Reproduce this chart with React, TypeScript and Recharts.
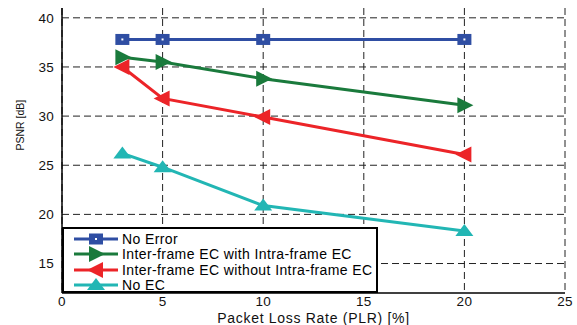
import React from "react";
import { CartesianGrid, Line, LineChart, XAxis, YAxis } from "recharts";

const plr = [3, 5, 10, 20];
const noError = [37.8, 37.8, 37.8, 37.8];
const interWithIntra = [36.0, 35.5, 33.8, 31.1];
const interWithoutIntra = [35.0, 31.8, 29.9, 26.1];
const noEc = [26.2, 24.8, 20.9, 18.3];
const xTicks = [0, 5, 10, 15, 20, 25];
const yTicks = [15, 20, 25, 30, 35, 40];

const FONT = "'Liberation Sans', Arial, sans-serif";

const SERIES = [
  { key: "noError", name: "No Error", color: "#2f4ea3", marker: "square" },
  { key: "interWithIntra", name: "Inter-frame EC with Intra-frame EC", color: "#1a7a3c", marker: "right" },
  { key: "interWithoutIntra", name: "Inter-frame EC without Intra-frame EC", color: "#ec2428", marker: "left" },
  { key: "noEc", name: "No EC", color: "#22b6b4", marker: "up" },
];

const data = plr.map((x, i) => ({
  x,
  noError: noError[i],
  interWithIntra: interWithIntra[i],
  interWithoutIntra: interWithoutIntra[i],
  noEc: noEc[i],
}));

function Marker({ cx, cy, type, color }: { cx: number; cy: number; type: string; color: string }) {
  if (type === "square") {
    return (
      <g>
        <rect x={cx - 7} y={cy - 5.5} width={14} height={11} fill={color} />
        <rect x={cx - 1} y={cy - 1} width={2} height={2} fill="#fff" />
      </g>
    );
  }
  if (type === "right") {
    return <polygon points={`${cx - 7},${cy - 8} ${cx + 9},${cy} ${cx - 7},${cy + 8}`} fill={color} />;
  }
  if (type === "left") {
    return <polygon points={`${cx + 7},${cy - 8} ${cx - 9},${cy} ${cx + 7},${cy + 8}`} fill={color} />;
  }
  return <polygon points={`${cx},${cy - 7} ${cx + 9},${cy + 5} ${cx - 9},${cy + 5}`} fill={color} />;
}

function makeDot(type: string, color: string) {
  return (props: any) => {
    const { cx, cy, index } = props;
    if (cx == null || cy == null) return <g key={index} />;
    return <Marker key={index} cx={cx} cy={cy} type={type} color={color} />;
  };
}

function LegendBox() {
  return (
    <div
      style={{
        position: "absolute",
        left: 62,
        top: 227,
        width: 316,
        height: 66,
        border: "2px solid #000",
        background: "#fff",
        boxSizing: "border-box",
        padding: "2px 0 0 8px",
        fontFamily: FONT,
        fontSize: 14,
        letterSpacing: 0.4,
        color: "#000",
      }}
    >
      {SERIES.map((s) => (
        <div key={s.key} style={{ display: "flex", alignItems: "center", height: 15.5 }}>
          <svg width={48} height={16} style={{ flex: "none" }}>
            <line x1={2} y1={8} x2={46} y2={8} stroke={s.color} strokeWidth={3} />
            <Marker cx={24} cy={8} type={s.marker} color={s.color} />
          </svg>
          <span style={{ marginLeft: 2, whiteSpace: "nowrap" }}>{s.name}</span>
        </div>
      ))}
    </div>
  );
}

export default function App() {
  return (
    <div style={{ position: "absolute", left: 0, top: 0, width: 577, height: 325, background: "#fff" }}>
      <LineChart width={577} height={325} data={data} margin={{ top: 8, right: 12, bottom: 0, left: 0 }}>
        <CartesianGrid stroke="#222" strokeDasharray="7 4" strokeWidth={1} horizontalValues={yTicks} verticalValues={xTicks} />
        <XAxis
          type="number"
          dataKey="x"
          domain={[0, 25]}
          ticks={xTicks}
          height={32}
          tickSize={1}
          tickLine={false}
          axisLine={{ stroke: "#000", strokeWidth: 1.5 }}
          tick={{ fill: "#111", fontSize: 13.5, fontFamily: FONT, letterSpacing: 0.3 }}
          label={{ value: "Packet Loss Rate (PLR) [%]", position: "insideBottom", offset: 2, fill: "#111", fontSize: 14, fontFamily: FONT, letterSpacing: 0.7 }}
        />
        <YAxis
          type="number"
          domain={[12, 41]}
          ticks={yTicks}
          width={62}
          tickLine={false}
          axisLine={{ stroke: "#000", strokeWidth: 1.5 }}
          tick={{ fill: "#111", fontSize: 13.5, fontFamily: FONT, letterSpacing: 0.3 }}
          label={{ value: "PSNR [dB]", angle: -90, position: "insideLeft", offset: 20, fill: "#111", fontSize: 10.5, fontFamily: FONT }}
        />
        <XAxis xAxisId="top" orientation="top" type="number" dataKey="x" domain={[0, 25]} ticks={xTicks} tick={false} tickLine={false} height={0} axisLine={{ stroke: "#000", strokeWidth: 1.5 }} />
        <YAxis yAxisId="right" orientation="right" domain={[12, 41]} ticks={yTicks} tick={false} tickLine={false} width={0} axisLine={{ stroke: "#000", strokeWidth: 1.5 }} />
        {SERIES.map((s) => (
          <Line
            key={s.key}
            type="linear"
            dataKey={s.key}
            name={s.name}
            stroke={s.color}
            strokeWidth={3}
            dot={makeDot(s.marker, s.color)}
            activeDot={false}
            isAnimationActive={false}
          />
        ))}
      </LineChart>
      <LegendBox />
    </div>
  );
}
